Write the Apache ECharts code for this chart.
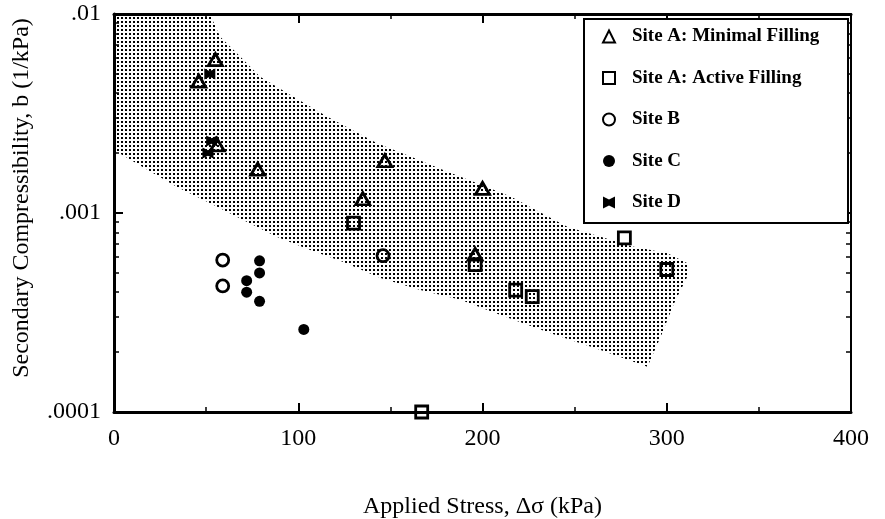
<!DOCTYPE html>
<html>
<head>
<meta charset="utf-8">
<style>
  html, body { margin: 0; padding: 0; background: #fff; }
  #chart { width: 885px; height: 519px; }
</style>
<script src="https://cdn.jsdelivr.net/npm/echarts@6/dist/echarts.min.js"></script>
</head>
<body>
<div id="chart"></div>
<script>
// Measured points: [applied stress (kPa), secondary compressibility b (1/kPa)]
const siteAMinimal = [[55, 0.0059], [46, 0.0046], [56, 0.0022], [78, 0.00166], [147, 0.00183], [135, 0.00118], [200, 0.00133], [196, 0.00062]];
const siteAActive = [[130, 0.00089], [196, 0.00055], [218, 0.00041], [227, 0.00038], [277, 0.00075], [300, 0.00052], [167, 0.0001]];
const siteB = [[59, 0.00058], [59, 0.00043], [146, 0.00061]];
const siteC = [[79, 0.000575], [79, 0.0005], [72, 0.000457], [72, 0.0004], [79, 0.00036], [103, 0.00026]];
const siteD = [[52, 0.0050], [53, 0.0023], [51, 0.0020]];

// Outline of the typical range band (clockwise from the top-left corner)
const bandStress = [0, 52, 57.6, 66.7, 79.3, 97.4, 115.6, 142.8, 160.9, 179, 197.1, 215.2, 246, 282.1, 300.4, 311.2,
  311.2, 304, 296.7, 289.5, 264.1, 237, 209.8, 188, 166.3, 144.6, 124.5, 106.5, 88.6, 70.1, 52.2, 34.2, 15.8, 0];
const bandB = [0.01, 0.01, 0.00769, 0.00635, 0.00484, 0.00384, 0.00305, 0.00224, 0.00192, 0.00164, 0.00141, 0.00121, 0.000853, 0.000677, 0.000627, 0.000559,
  0.000479, 0.000352, 0.000239, 0.000169, 0.000205, 0.000249, 0.000307, 0.000366, 0.00041, 0.000471, 0.000567, 0.000652, 0.000757, 0.000922, 0.00112, 0.00135, 0.0017, 0.00207];

// Axis tick labels
const xTicks = [0, 100, 200, 300, 400];
const yTickLabels = { '0.0001': '.0001', '0.001': '.001', '0.01': '.01' };
const yMinorTicks = [0.0002, 0.0003, 0.0004, 0.0005, 0.0006, 0.0007, 0.0008, 0.0009,
  0.002, 0.003, 0.004, 0.005, 0.006, 0.007, 0.008, 0.009];

const seriesNames = ['Site A: Minimal Filling', 'Site A: Active Filling', 'Site B', 'Site C', 'Site D'];

// Dot-screen fill for the band
const tile = document.createElement('canvas');
tile.width = 4; tile.height = 4;
const tctx = tile.getContext('2d');
tctx.fillStyle = '#000';
tctx.fillRect(1, 1, 2, 2);
const dotPattern = { image: tile, repeat: 'repeat' };

const serif = 'Liberation Serif, Times New Roman, serif';
const hollow = 'rgba(0,0,0,0)';
const bowtie = 'path://M0,0 L5,2.5 L10,0 L10,10 L5,7.5 L0,10 Z';

const chart = echarts.init(document.getElementById('chart'), null, { renderer: 'canvas' });

const logAxisBase = { type: 'log', logBase: 10, min: 0.0001, max: 0.01, splitLine: { show: false } };

chart.setOption({
  animation: false,
  backgroundColor: '#fff',
  grid: { left: 114, right: 34, top: 14, bottom: 107, outerBoundsMode: 'none', containLabel: false },
  xAxis: [
    {
      type: 'value', min: 0, max: 400, interval: 100, position: 'bottom',
      name: 'Applied Stress, \u0394\u03c3 (kPa)', nameLocation: 'middle', nameGap: 83,
      nameTextStyle: { fontFamily: serif, fontSize: 24, color: '#000' },
      axisLine: { lineStyle: { color: '#000', width: 3 } },
      axisTick: { inside: true, length: 9, lineStyle: { color: '#000', width: 2 } },
      minorTick: { show: true, splitNumber: 2, length: 5, lineStyle: { color: '#000', width: 1.5 } },
      axisLabel: {
        margin: 15, fontFamily: serif, fontSize: 24, color: '#000',
        formatter: v => (xTicks.indexOf(v) >= 0 ? String(v) : '')
      },
      splitLine: { show: false }
    },
    {
      type: 'value', min: 0, max: 400, interval: 100, position: 'top',
      axisLine: { lineStyle: { color: '#000', width: 3 } },
      axisTick: { inside: true, length: 9, lineStyle: { color: '#000', width: 2 } },
      minorTick: { show: true, splitNumber: 2, length: 5, lineStyle: { color: '#000', width: 1.5 } },
      axisLabel: { show: false },
      splitLine: { show: false }
    }
  ],
  yAxis: [
    Object.assign({}, logAxisBase, {
      position: 'left',
      name: 'Secondary Compressibility, b (1/kPa)', nameLocation: 'middle', nameGap: 80, nameRotate: 90,
      nameTextStyle: { fontFamily: serif, fontSize: 24, color: '#000', padding: [0, 0, 0, 30] },
      axisLine: { show: true, lineStyle: { color: '#000', width: 3 } },
      axisTick: { inside: true, length: 9, lineStyle: { color: '#000', width: 2 } },
      axisLabel: {
        margin: 13, fontFamily: serif, fontSize: 24, color: '#000',
        formatter: v => yTickLabels[String(+v.toPrecision(3))] || ''
      }
    }),
    Object.assign({}, logAxisBase, {
      position: 'left',
      axisLine: { show: false },
      axisTick: { inside: true, length: 5, customValues: yMinorTicks, lineStyle: { color: '#000', width: 1.5 } },
      axisLabel: { show: false }
    }),
    Object.assign({}, logAxisBase, {
      position: 'right',
      axisLine: { show: true, lineStyle: { color: '#000', width: 2 } },
      axisTick: { inside: true, length: 9, lineStyle: { color: '#000', width: 2 } },
      axisLabel: { show: false }
    }),
    Object.assign({}, logAxisBase, {
      position: 'right',
      axisLine: { show: false },
      axisTick: { inside: true, length: 5, customValues: yMinorTicks, lineStyle: { color: '#000', width: 1.5 } },
      axisLabel: { show: false }
    })
  ],
  legend: {
    data: seriesNames,
    orient: 'vertical',
    left: 602, top: 27,
    z: 10,
    padding: 0,
    itemGap: 22.5,
    itemWidth: 12, itemHeight: 12,
    textStyle: { fontFamily: serif, fontSize: 19, fontWeight: 'bold', color: '#000', padding: [0, 0, 0, 12] },
    selectedMode: false
  },
  graphic: [{
    type: 'rect', left: 583, top: 18, z: 4,
    shape: { width: 264, height: 204 },
    style: { fill: '#fff', stroke: '#000', lineWidth: 2 }
  }],
  series: [
    {
      type: 'custom', name: 'band', silent: true, z: 1, clip: true,
      data: bandStress.map((x, i) => [x, bandB[i]]),
      encode: { x: 0, y: 1 },
      renderItem: function (params, api) {
        if (params.dataIndexInside !== 0) return null;
        const pts = bandStress.map((x, i) => api.coord([x, bandB[i]]));
        return { type: 'polygon', shape: { points: pts }, style: { fill: dotPattern, stroke: null } };
      }
    },
    {
      type: 'scatter', name: seriesNames[0], data: siteAMinimal, z: 3, clip: false,
      symbol: 'triangle', symbolSize: [14, 12],
      itemStyle: { color: hollow, borderColor: '#000', borderWidth: 2.8, opacity: 1 }
    },
    {
      type: 'scatter', name: seriesNames[1], data: siteAActive, z: 3, clip: false,
      symbol: 'rect', symbolSize: 12,
      itemStyle: { color: hollow, borderColor: '#000', borderWidth: 2.8, opacity: 1 }
    },
    {
      type: 'scatter', name: seriesNames[2], data: siteB, z: 3, clip: false,
      symbol: 'circle', symbolSize: 12,
      itemStyle: { color: hollow, borderColor: '#000', borderWidth: 2.8, opacity: 1 }
    },
    {
      type: 'scatter', name: seriesNames[3], data: siteC, z: 3, clip: false,
      symbol: 'circle', symbolSize: 11,
      itemStyle: { color: '#000', opacity: 1 }
    },
    {
      type: 'scatter', name: seriesNames[4], data: siteD, z: 3, clip: false,
      symbol: bowtie, symbolSize: 11,
      itemStyle: { color: '#000', opacity: 1 }
    }
  ]
});
</script>
</body>
</html>
